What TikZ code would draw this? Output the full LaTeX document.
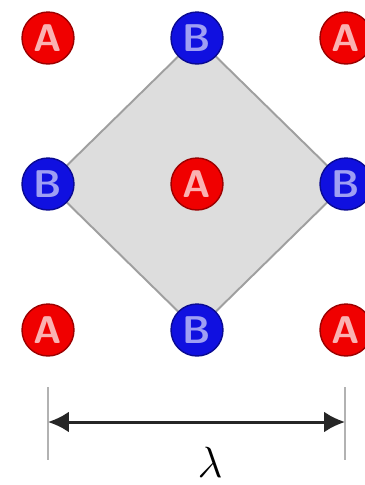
\documentclass[tikz,border=0pt]{standalone}
\usepackage{tikz}
\usetikzlibrary{arrows.meta}
\definecolor{atomA}{HTML}{F00000}
\definecolor{atomB}{HTML}{1010E0}

\begin{document}
\begin{tikzpicture}[x=0.02cm,y=-0.02cm,
  a/.style={circle, draw=atomA!65!black, line width=0.8pt, fill=atomA, text=atomA!30!white, minimum size=1.04cm, inner sep=0pt, font=\fontsize{22}{22}\selectfont\sffamily\bfseries},
  b/.style={circle, draw=atomB!65!black, line width=0.8pt, fill=atomB, text=atomB!40!white, minimum size=1.04cm, inner sep=0pt, font=\fontsize{22}{22}\selectfont\sffamily\bfseries},
  tick/.style={draw=gray!60, line width=1.2pt}
]
\useasboundingbox (0,0) rectangle (365,485);
% ---- lattice step (px) ----
\def\lx{149} % column step
\def\ly{146} % row step

% ===== LATTICE POINTS =====
\foreach \i in {0,1,2}
  \foreach \j in {0,1,2}
    \coordinate (p\i\j) at (48+\lx*\i, 38+\ly*\j);

% unit cell
\filldraw[fill=gray!27, draw=gray!75, line width=1.1pt] (p10) -- (p21) -- (p12) -- (p01) -- cycle;

% ===== ATOMS A (corners + centre) =====
\node[a] (a00) at (p00) {A};
\node[a] (a20) at (p20) {A};
\node[a] (a11) at (p11) {A};
\node[a] (a02) at (p02) {A};
\node[a] (a22) at (p22) {A};

% ===== ATOMS B (edge midpoints) =====
\node[b] (b10) at (p10) {B};
\node[b] (b01) at (p01) {B};
\node[b] (b21) at (p21) {B};
\node[b] (b12) at (p12) {B};

% ===== LATTICE CONSTANT =====
\coordinate (t0) at (48,387);  \coordinate (t0e) at (48,460);
\coordinate (t1) at (345,387); \coordinate (t1e) at (345,460);
\coordinate (m0) at (48,422);  \coordinate (m1) at (345,422);
\draw[tick] (t0) -- (t0e);
\draw[tick] (t1) -- (t1e);
\draw[{Latex[length=0.42cm,width=0.42cm]}-{Latex[length=0.42cm,width=0.42cm]}, line width=1.7pt, black!85] (m0) -- (m1);
\node[font=\fontsize{42}{42}\selectfont] (lam) at (210,462) {$\lambda$};

\end{tikzpicture}
\end{document}
